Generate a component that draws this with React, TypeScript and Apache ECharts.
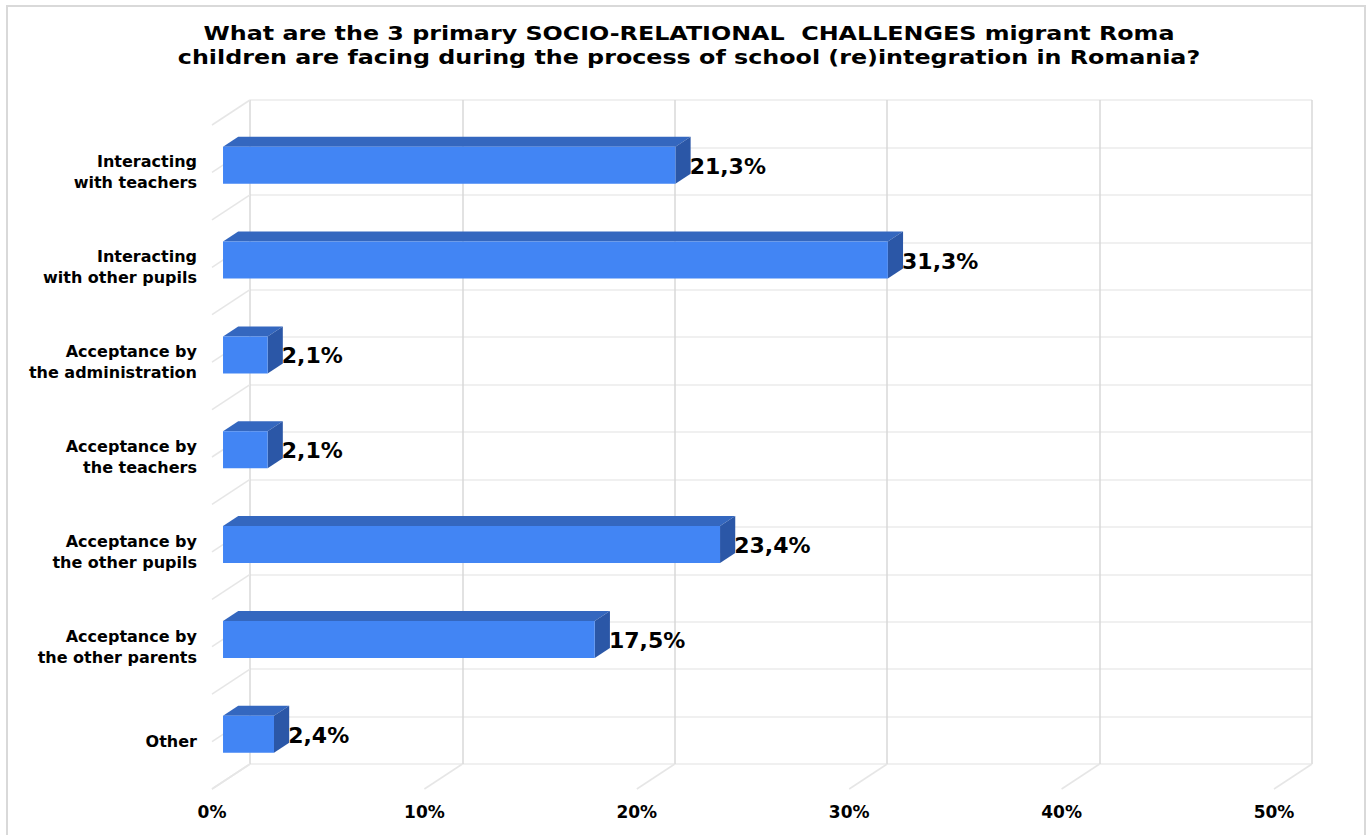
import React, { useEffect, useRef } from 'react';
import * as echarts from 'echarts';

const titleLines = [
  'What are the 3 primary SOCIO-RELATIONAL  CHALLENGES migrant Roma',
  'children are facing during the process of school (re)integration in Romania?',
];

const categories = [
  'Interacting\nwith teachers',
  'Interacting\nwith other pupils',
  'Acceptance by\nthe administration',
  'Acceptance by\nthe teachers',
  'Acceptance by\nthe other pupils',
  'Acceptance by\nthe other parents',
  'Other',
];

const values = [21.3, 31.3, 2.1, 2.1, 23.4, 17.5, 2.4];

const xTicks = [0, 10, 20, 30, 40, 50];

// horizontal back-wall / side-wall gridline levels (in category units)
const wallLevels = [0, 0.5, 1, 1.5, 2, 2.5, 3, 3.5, 4, 4.5, 5, 5.5, 6, 6.5, 7];

const FONT = '"DejaVu Sans", "Liberation Sans", Arial, sans-serif';

// depth vector from back wall to front plane (pixels)
const DX = -38;
const DY = 25;
const FRONT_F = 0.71;
const BACK_F = 0.31;
const BAR_RATIO = 0.39;

const COLORS = {
  front: '#4285F4',
  top: '#3467BF',
  side: '#2B57A7',
  grid: '#D9D9D9',
  gridLight: '#EBEBEB',
  slant: '#E6E6E6',
};

export default function App() {
  const ref = useRef<HTMLDivElement>(null);

  useEffect(() => {
    if (!ref.current) return;
    const chart = echarts.init(ref.current, undefined, { renderer: 'svg' });

    const frameData: any[] = [];
    xTicks.forEach((v) => frameData.push([v, wallLevels[wallLevels.length - 1]]));
    wallLevels.forEach((l) => frameData.push([0, l]));

    const barData = values.map((v, i) => [v, i]);

    const titleY = [33, 57];

    const option: any = {
      animation: false,
      backgroundColor: '#ffffff',
      graphic: [
        {
          type: 'rect',
          shape: { x: 7, y: 6, width: 1358, height: 840 },
          style: { fill: 'none', stroke: '#D9D9D9', lineWidth: 2 },
          silent: true,
          z: -10,
        },
        ...titleLines.map((t, i) => ({
          type: 'group',
          x: 689,
          y: titleY[i],
          scaleX: 1.19,
          children: [
            {
              type: 'text',
              x: 0,
              y: 0,
              style: {
                text: t,
                fill: '#000000',
                font: 'bold 20px ' + FONT,
                textAlign: 'center',
                textVerticalAlign: 'middle',
              },
            },
          ],
        })),
      ],
      grid: [
        { left: 250, top: 100, width: 1062, height: 664 },
        { left: 212, top: 125, width: 1062, height: 664 },
      ],
      xAxis: [
        {
          gridIndex: 0,
          type: 'value',
          min: 0,
          max: 50,
          interval: 10,
          axisLine: { show: false },
          axisTick: { show: false },
          axisLabel: { show: false },
          splitLine: { show: true, lineStyle: { color: COLORS.grid, width: 1.5 } },
        },
        {
          gridIndex: 1,
          type: 'value',
          min: 0,
          max: 50,
          interval: 10,
          axisLine: { show: false },
          axisTick: { show: false },
          splitLine: { show: false },
          axisLabel: {
            margin: 14,
            formatter: '{value}%',
            fontFamily: FONT,
            fontWeight: 'bold',
            fontSize: 17,
            color: '#000000',
          },
        },
      ],
      yAxis: [
        {
          gridIndex: 0,
          type: 'value',
          min: 0,
          max: 7,
          interval: 0.5,
          inverse: true,
          axisLine: { show: false },
          axisTick: { show: false },
          axisLabel: { show: false },
          splitLine: { show: true, lineStyle: { color: COLORS.gridLight, width: 1.5 } },
        },
        {
          gridIndex: 1,
          type: 'category',
          inverse: true,
          data: categories,
          axisLine: { show: false },
          axisTick: { show: false },
          splitLine: { show: false },
          axisLabel: {
            margin: 15,
            align: 'right',
            fontFamily: FONT,
            fontWeight: 'bold',
            fontSize: 16,
            lineHeight: 21,
            color: '#000000',
          },
        },
      ],
      series: [
        {
          type: 'custom',
          name: 'frame',
          xAxisIndex: 0,
          yAxisIndex: 0,
          silent: true,
          z: 1,
          data: frameData,
          renderItem: (params: any, api: any) => {
            const p = api.coord([api.value(0), api.value(1)]);
            return {
              type: 'line',
              shape: { x1: p[0], y1: p[1], x2: p[0] + DX, y2: p[1] + DY },
              style: { stroke: COLORS.slant, lineWidth: 1.5 },
            };
          },
        },
        {
          type: 'custom',
          name: 'bars',
          xAxisIndex: 0,
          yAxisIndex: 0,
          z: 5,
          data: barData,
          renderItem: (params: any, api: any) => {
            const v = api.value(0);
            const c = api.value(1);
            const L = api.coord([0, c + 0.5]);
            const R = api.coord([v, c + 0.5]);
            const band = api.size([0, 1])[1];
            const h = (band * BAR_RATIO) / 2;
            const fx = DX * FRONT_F;
            const fy = DY * FRONT_F;
            const bx = DX * BACK_F;
            const by = DY * BACK_F;
            const cy = L[1];
            const front = {
              type: 'rect',
              shape: { x: L[0] + fx, y: cy + fy - h, width: R[0] - L[0], height: 2 * h },
              style: { fill: COLORS.front },
            };
            const top = {
              type: 'polygon',
              shape: {
                points: [
                  [L[0] + fx, cy + fy - h],
                  [R[0] + fx, cy + fy - h],
                  [R[0] + bx, cy + by - h],
                  [L[0] + bx, cy + by - h],
                ],
              },
              style: { fill: COLORS.top },
            };
            const side = {
              type: 'polygon',
              shape: {
                points: [
                  [R[0] + fx, cy + fy - h],
                  [R[0] + bx, cy + by - h],
                  [R[0] + bx, cy + by + h],
                  [R[0] + fx, cy + fy + h],
                ],
              },
              style: { fill: COLORS.side },
            };
            const label = {
              type: 'text',
              z2: 10,
              style: {
                x: R[0] + bx - 1,
                y: cy + fy + 1,
                text: v.toFixed(1).replace('.', ',') + '%',
                fill: '#000000',
                font: 'bold 22px ' + FONT,
                textAlign: 'left',
                textVerticalAlign: 'middle',
              },
            };
            return { type: 'group', children: [top, side, front, label] };
          },
        },
      ],
    };

    chart.setOption(option);
    return () => chart.dispose();
  }, []);

  return (
    <div
      ref={ref}
      style={{ position: 'fixed', left: 0, top: 0, width: 1367, height: 835 }}
    />
  );
}
